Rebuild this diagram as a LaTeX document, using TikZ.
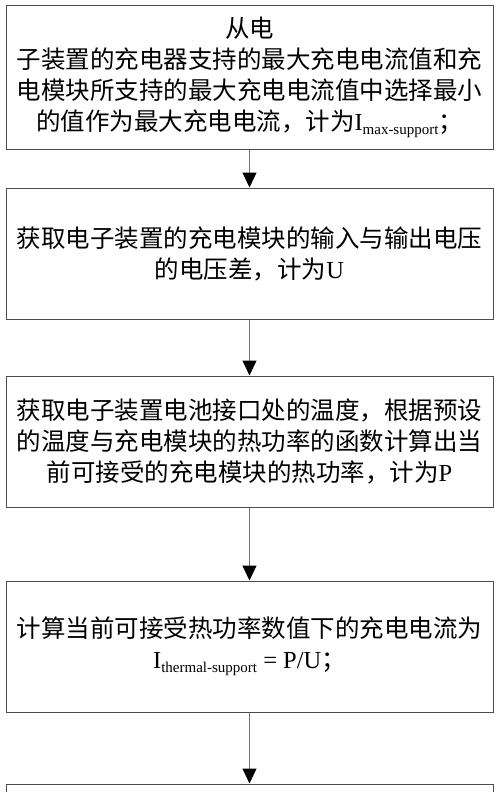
\documentclass[tikz,border=0pt]{standalone}
\usepackage{fontspec}
\setmainfont{Noto Sans CJK SC}
\newfontfamily\lat{Liberation Serif}
\usetikzlibrary{arrows.meta}
\newcommand\subtxt[1]{\raisebox{-4pt}{\fontsize{15}{15}\selectfont\lat #1}}
\begin{document}
\begin{tikzpicture}[x=1pt,y=-1pt,
  stepbox/.style={draw=black!70,line width=1pt,rectangle,minimum width=487pt,inner sep=0pt,
    align=center,font=\fontsize{24.5}{31}\selectfont},
  flow/.style={draw=black!55,line width=1pt,-{Triangle[width=14pt,length=15pt,fill=black,color=black]}}]
\useasboundingbox (0,0) rectangle (500,792);
\node[stepbox,minimum height=143pt] (b1) at (249.5,77.5) {从电\\子装置的充电器支持的最大充电电流值和充\\电模块所支持的最大充电电流值中选择最小\\的值作为最大充电电流，计为{\lat I}\subtxt{max-support}；};
\node[stepbox,minimum height=131pt] (b2) at (249.5,253.5) {获取电子装置的充电模块的输入与输出电压\\的电压差，计为{\lat U}};
\node[stepbox,minimum height=131pt] (b3) at (249.5,441.5) {获取电子装置电池接口处的温度，根据预设\\的温度与充电模块的热功率的函数计算出当\\前可接受的充电模块的热功率，计为{\lat P}};
\node[stepbox,minimum height=131pt] (b4) at (249.5,646.5) {计算当前可接受热功率数值下的充电电流为\\{\lat I}\subtxt{thermal-support}{\lat\ = P/U}；};
\node[stepbox,minimum height=131pt] (b5) at (249.5,849.5) {};
\draw[flow] (b1) -- (b2);
\draw[flow] (b2) -- (b3);
\draw[flow] (b3) -- (b4);
\draw[flow] (b4) -- (b5);
\end{tikzpicture}
\end{document}
